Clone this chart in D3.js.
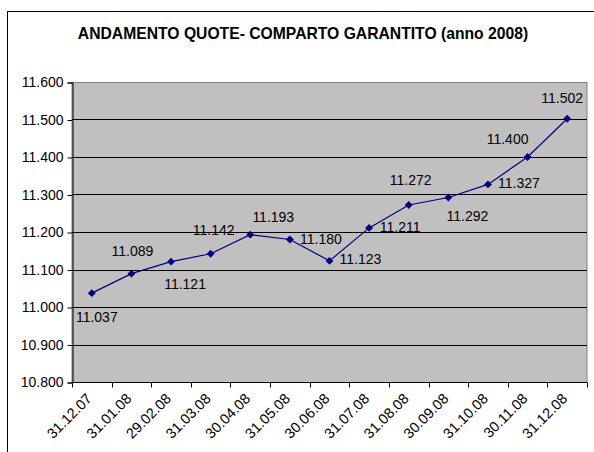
<!DOCTYPE html>
<html>
<head>
<meta charset="utf-8">
<script src="https://cdn.jsdelivr.net/npm/d3@7"></script>
<style>
body { margin: 0; background: #fff; }
text { font-family: Arial, "Liberation Sans", sans-serif; }
</style>
</head>
<body>
<svg width="594" height="452"></svg>
<script>
var dates = ["31.12.07","31.01.08","29.02.08","31.03.08","30.04.08","31.05.08","30.06.08",
             "31.07.08","31.08.08","30.09.08","31.10.08","30.11.08","31.12.08"];
var quote = [11.037, 11.089, 11.121, 11.142, 11.193, 11.180, 11.123,
             11.211, 11.272, 11.292, 11.327, 11.400, 11.502];
var yTicks = [10.8, 10.9, 11.0, 11.1, 11.2, 11.3, 11.4, 11.5, 11.6];

// nudges for the value labels, as placed by hand in the original
var labelNudge = [[5,29],[1,-18],[14,27],[3,-19],[23,-13],[31,4],[31,3],
                  [31,4],[2,-20],[19,23],[31,4],[-20,-13],[-5,-16]];

var svg = d3.select("svg");
var pLeft = 72, pTop = 82, pRight = 587, pBottom = 382;

// outer frame
svg.append("rect")
  .attr("x", 7.5).attr("y", 11.5)
  .attr("width", 600).attr("height", 500)
  .attr("fill", "none").attr("stroke", "#000");

svg.append("text")
  .attr("x", 303).attr("y", 39)
  .attr("text-anchor", "middle")
  .attr("font-size", "15.7px")
  .attr("font-weight", "bold")
  .text("ANDAMENTO QUOTE- COMPARTO GARANTITO (anno 2008)");

var x = d3.scaleBand().domain(dates).range([pLeft, pRight]);
var y = d3.scaleLinear().domain([10.8, 11.6]).range([pBottom, pTop]);

svg.append("rect")
  .attr("x", pLeft).attr("y", pTop + 0.5)
  .attr("width", pRight - pLeft).attr("height", pBottom - pTop)
  .attr("fill", "#c0c0c0")
  .attr("stroke", "#808080");

svg.append("g")
  .selectAll("line")
  .data(yTicks.slice(1, -1))
  .enter()
  .append("line")
  .attr("x1", pLeft).attr("x2", pRight)
  .attr("y1", d => Math.round(y(d)) + 0.5)
  .attr("y2", d => Math.round(y(d)) + 0.5)
  .attr("stroke", "#000");

var fmt = d3.format(".3f");

var yAxis = svg.append("g")
  .attr("transform", "translate(" + (pLeft + 0.5) + ",0.5)")
  .call(d3.axisLeft(y).tickValues(yTicks).tickFormat(fmt).tickSize(5).tickPadding(4));
yAxis.select(".domain").attr("stroke", "#000");
yAxis.selectAll("text").attr("font-size", "14px").attr("fill", "#000")
  .attr("font-family", "Arial, 'Liberation Sans', sans-serif");

// category axis with ticks between categories
var xAxis = svg.append("g")
  .attr("transform", "translate(0," + (pBottom + 0.5) + ")");
xAxis.append("line")
  .attr("x1", pLeft).attr("x2", pRight)
  .attr("stroke", "#000");
xAxis.selectAll(".tk")
  .data(dates.concat(["end"]))
  .enter()
  .append("line")
  .attr("class", "tk")
  .attr("x1", (d, i) => Math.round(pLeft + i * x.step()) + 0.5)
  .attr("x2", (d, i) => Math.round(pLeft + i * x.step()) + 0.5)
  .attr("y1", 0).attr("y2", 5)
  .attr("stroke", "#000");
xAxis.selectAll(".lbl")
  .data(dates)
  .enter()
  .append("text")
  .attr("class", "lbl")
  .attr("text-anchor", "end")
  .attr("font-size", "14.5px")
  .attr("transform", d => "translate(" + (x(d) + x.bandwidth() / 2 + 1) + ",17) rotate(-45)")
  .text(d => d);

var cx = (d, i) => x(dates[i]) + x.bandwidth() / 2;

var line = d3.line()
  .x((d, i) => cx(d, i))
  .y(d => y(d));

svg.append("path")
  .datum(quote)
  .attr("d", line)
  .attr("fill", "none")
  .attr("stroke", "#000080")
  .attr("stroke-width", 1.2);

svg.selectAll(".pt")
  .data(quote)
  .enter()
  .append("path")
  .attr("class", "pt")
  .attr("d", d3.symbol().type(d3.symbolDiamond2).size(40))
  .attr("transform", (d, i) => "translate(" + cx(d, i) + "," + y(d) + ")")
  .attr("fill", "#000080");

svg.selectAll(".val")
  .data(quote)
  .enter()
  .append("text")
  .attr("class", "val")
  .attr("text-anchor", "middle")
  .attr("font-size", "14px")
  .attr("fill", "#000")
  .attr("x", (d, i) => cx(d, i) + labelNudge[i][0])
  .attr("y", (d, i) => y(d) + labelNudge[i][1])
  .text(d => fmt(d));
</script>
</body>
</html>
